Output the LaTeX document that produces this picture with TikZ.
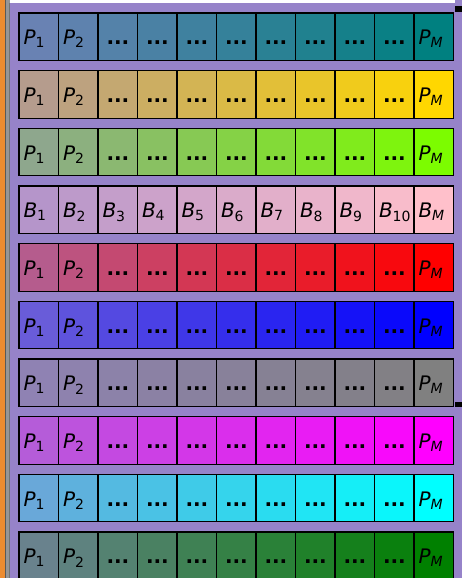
\documentclass[tikz,border=0pt]{standalone}
\usepackage{fontspec}
\setmainfont{DejaVu Sans}
\usepackage{xcolor}
\usepackage{tikz}

\definecolor{panel}{RGB}{150,131,201}
\definecolor{strip}{RGB}{236,140,48}
\definecolor{rail}{RGB}{150,150,150}
\definecolor{tealc}{RGB}{0,128,128}
\definecolor{goldc}{RGB}{255,215,0}
\definecolor{lawnc}{RGB}{124,252,0}
\definecolor{pinkc}{RGB}{255,192,203}
\definecolor{redc}{RGB}{255,0,0}
\definecolor{bluec}{RGB}{0,0,255}
\definecolor{grayc}{RGB}{128,128,128}
\definecolor{magc}{RGB}{255,0,255}
\definecolor{cyanc}{RGB}{0,255,255}
\definecolor{greenc}{RGB}{0,128,0}

\newcommand{\cellname}[2]{%
  \ifnum#2=11 \textit{#1}\textsubscript{\textit{M}}%
  \else\ifnum#2<3 \textit{#1}\textsubscript{#2}%
  \else\if#1B\textit{#1}\textsubscript{#2}%
  \else\hspace*{4pt}\textbf{...}\fi\fi\fi}

\begin{document}
\begin{tikzpicture}[x=1pt, y=-1pt,
    cell/.style={rectangle, draw=black, line width=1.2pt, minimum width=39.5pt, minimum height=47.5pt,
      inner xsep=4.5pt, inner ysep=0pt, text width=30.5pt, align=left, text height=16pt, text depth=0pt,
      font=\fontsize{20}{24}\selectfont}]

    \useasboundingbox (0,0) rectangle (462,578);
    \clip (0,0) rectangle (462,578);

    \fill[panel] (0,0) rectangle (462,578);
    \fill[white] (10,0) rectangle (455,3);
    \fill[strip] (0,0) rectangle (4.5,578);
    \fill[rail] (4.5,0) rectangle (9.5,578);
    \draw[black!65, line width=0.8pt] (5,0) -- (5,578);
    \draw[black!55, line width=0.6pt] (9.2,3) -- (9.2,578);
    \fill[black] (455,6.5) rectangle (462,12);
    \fill[black] (455,401.5) rectangle (462,407);

    \foreach \r/\col/\lab in {1/tealc/P, 2/goldc/P, 3/lawnc/P, 4/pinkc/B, 5/redc/P,
                              6/bluec/P, 7/grayc/P, 8/magc/P, 9/cyanc/P, 10/greenc/P}{
      \foreach \c in {1,...,11}{
        \pgfmathtruncatemacro{\pct}{30+7*(\c-1)}
        \node[cell, fill=\col!\pct!panel] (r\r c\c) at ({19+39.5*(\c-0.5)}, {36.75+57.67*(\r-1)}) {\cellname{\lab}{\c}};
      }
    }
\end{tikzpicture}
\end{document}
